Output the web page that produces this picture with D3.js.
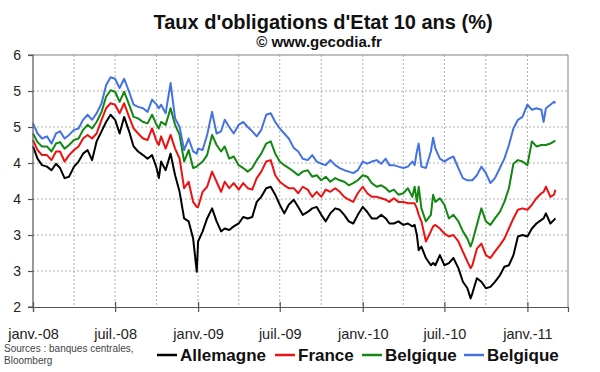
<!DOCTYPE html>
<html>
<head>
<meta charset="utf-8">
<script src="https://cdn.jsdelivr.net/npm/d3@7"></script>
<style>
  body { margin: 0; background: #fff; }
  svg { display: block; font-family: "Liberation Sans", Arial, sans-serif; }
</style>
</head>
<body>
<div id="chart"></div>
<script>
// values (about three per month)
const dates = [
  '2008-01-01','2008-01-11','2008-01-21','2008-02-01','2008-02-11','2008-02-21','2008-03-01','2008-03-11','2008-03-21',
  '2008-04-01','2008-04-11','2008-04-21','2008-05-01','2008-05-11','2008-05-21','2008-06-01','2008-06-11','2008-06-21',
  '2008-07-01','2008-07-11','2008-07-21','2008-08-01','2008-08-11','2008-08-21','2008-09-01','2008-09-11','2008-09-21',
  '2008-10-01','2008-10-06','2008-10-11','2008-10-21','2008-11-01','2008-11-11','2008-11-21','2008-12-01','2008-12-11',
  '2008-12-21','2008-12-29','2009-01-01','2009-01-11','2009-01-21','2009-02-01','2009-02-11','2009-02-21','2009-03-01',
  '2009-03-11','2009-03-21','2009-04-01','2009-04-11','2009-04-21','2009-05-01','2009-05-11','2009-05-21','2009-06-01',
  '2009-06-11','2009-06-21','2009-07-01','2009-07-11','2009-07-21','2009-08-01','2009-08-11','2009-08-21','2009-09-01',
  '2009-09-11','2009-09-21','2009-10-01','2009-10-11','2009-10-21','2009-11-01','2009-11-11','2009-11-21','2009-12-01',
  '2009-12-11','2009-12-21','2010-01-01','2010-01-11','2010-01-21','2010-02-01','2010-02-11','2010-02-21','2010-03-01',
  '2010-03-11','2010-03-21','2010-04-01','2010-04-11','2010-04-21','2010-04-26','2010-05-01','2010-05-05','2010-05-11',
  '2010-05-21','2010-06-01','2010-06-06','2010-06-11','2010-06-21','2010-07-01','2010-07-11','2010-07-21','2010-08-01',
  '2010-08-11','2010-08-21','2010-08-28','2010-09-01','2010-09-11','2010-09-21','2010-10-01','2010-10-11','2010-10-21',
  '2010-11-01','2010-11-11','2010-11-21','2010-12-01','2010-12-11','2010-12-21','2011-01-01','2011-01-11','2011-01-21',
  '2011-02-01','2011-02-06','2011-02-11','2011-02-21','2011-03-01','2011-03-04'
]

const allemagne = [
  4.23,4.06,3.97,3.95,3.90,3.99,3.93,3.79,3.81,
  3.95,4.02,4.13,4.18,4.04,4.30,4.44,4.57,4.67,
  4.60,4.41,4.64,4.44,4.23,4.16,4.11,4.06,4.11,
  3.93,3.79,4.02,3.90,4.13,3.83,3.60,3.23,3.19,
  2.95,2.49,2.91,3.05,3.23,3.37,3.19,3.05,3.09,
  3.07,3.12,3.16,3.25,3.23,3.25,3.46,3.53,3.65,
  3.67,3.56,3.42,3.30,3.42,3.49,3.39,3.28,3.32,
  3.37,3.39,3.28,3.19,3.30,3.37,3.35,3.28,3.19,
  3.16,3.28,3.39,3.32,3.23,3.23,3.28,3.23,3.16,
  3.16,3.19,3.14,3.16,3.12,3.14,3.00,2.79,2.84,
  2.68,2.58,2.61,2.58,2.72,2.58,2.61,2.68,2.54,
  2.35,2.26,2.12,2.19,2.40,2.35,2.26,2.28,2.35,
  2.44,2.56,2.58,2.72,2.98,3.00,2.98,3.09,3.16,
  3.21,3.23,3.30,3.16,3.21,3.23
]

const france = [
  4.32,4.18,4.11,4.11,4.04,4.16,4.16,4.02,4.11,
  4.18,4.23,4.34,4.39,4.34,4.41,4.60,4.76,4.83,
  4.81,4.69,4.83,4.64,4.48,4.41,4.34,4.32,4.48,
  4.30,4.25,4.37,4.20,4.39,4.20,4.06,3.65,3.74,
  3.46,3.39,3.39,3.60,3.67,3.88,3.74,3.60,3.74,
  3.65,3.72,3.63,3.72,3.65,3.63,3.79,3.88,4.02,
  4.04,3.83,3.74,3.69,3.65,3.65,3.58,3.67,3.63,
  3.53,3.60,3.53,3.63,3.60,3.65,3.60,3.53,3.49,
  3.46,3.58,3.67,3.58,3.53,3.53,3.51,3.49,3.46,
  3.51,3.46,3.46,3.44,3.44,3.44,3.37,3.28,3.19,
  2.91,3.05,3.12,3.14,3.09,3.02,2.98,3.00,2.91,
  2.77,2.63,2.54,2.58,2.81,2.88,2.72,2.68,2.77,
  2.86,2.95,3.09,3.23,3.35,3.37,3.35,3.42,3.51,
  3.58,3.60,3.67,3.53,3.56,3.63
]

const belgique = [
  4.41,4.29,4.23,4.23,4.16,4.27,4.29,4.20,4.25,
  4.32,4.34,4.46,4.53,4.48,4.57,4.71,4.92,5.01,
  4.99,4.85,4.99,4.81,4.64,4.62,4.57,4.55,4.67,
  4.53,4.48,4.57,4.53,4.76,4.53,4.39,4.02,4.18,
  3.93,3.95,3.97,4.02,4.11,4.39,4.25,4.16,4.23,
  4.06,4.09,3.97,3.93,3.88,3.93,4.04,4.13,4.27,
  4.30,4.13,4.02,3.97,3.93,3.88,3.83,3.88,3.90,
  3.81,3.83,3.76,3.81,3.74,3.79,3.76,3.74,3.69,
  3.72,3.76,3.83,3.81,3.72,3.67,3.69,3.65,3.60,
  3.63,3.56,3.58,3.65,3.53,3.67,3.46,3.67,3.37,
  3.19,3.28,3.56,3.46,3.51,3.42,3.23,3.28,3.19,
  3.05,2.95,2.84,2.91,3.14,3.37,3.19,3.14,3.23,
  3.32,3.46,3.65,3.99,4.04,4.02,3.97,4.30,4.23,
  4.25,4.25,4.25,4.27,4.30,4.31
]

// the second "Belgique" series (blue) keeps its label from the original
const belgique2 = [
  4.55,4.41,4.34,4.37,4.27,4.41,4.44,4.34,4.39,
  4.46,4.48,4.60,4.67,4.60,4.69,4.83,5.08,5.19,
  5.17,5.04,5.17,4.99,4.81,4.78,4.76,4.71,4.88,
  4.81,4.76,4.81,4.69,5.11,4.62,4.50,4.18,4.34,
  4.16,4.13,4.20,4.18,4.39,4.71,4.41,4.44,4.60,
  4.50,4.41,4.53,4.57,4.50,4.44,4.37,4.46,4.67,
  4.69,4.57,4.48,4.41,4.34,4.21,4.16,4.06,4.04,
  4.11,4.02,3.99,3.97,4.04,3.97,3.93,3.90,3.88,
  3.86,3.90,4.02,3.99,4.02,4.04,3.99,4.06,3.97,
  3.97,3.95,3.93,3.95,4.02,3.97,4.16,4.27,3.95,
  3.93,4.16,4.35,4.20,4.06,4.02,4.06,4.09,3.93,
  3.79,3.76,3.76,3.76,3.83,3.95,3.86,3.72,3.79,
  3.93,4.06,4.25,4.48,4.60,4.64,4.81,4.74,4.76,
  4.74,4.57,4.76,4.81,4.85,4.83
]

const seriesNames = ['Allemagne', 'France', 'Belgique', 'Belgique']
const seriesColors = ['#000000', '#ee1111', '#118811', '#4472e4']

const yTicks = [2, 2.5, 3, 3.5, 4, 4.5, 5, 5.5]
const yTickLabels = ['2', '3', '3', '4', '4', '5', '5', '6']
const xTickDates = ['2008-01-01','2008-07-01','2009-01-01','2009-07-01','2010-01-01','2010-07-01','2011-01-01']
const xTickLabels = ['janv.-08','juil.-08','janv.-09','juil.-09','janv.-10','juil.-10','janv.-11']

const width = 600
const height = 372
const plot = { left: 33, right: 568, top: 55, bottom: 307 }

const parse = d3.timeParse('%Y-%m-%d')
const parsedDates = dates.map(parse)
const series = [allemagne, france, belgique, belgique2].map((vals, i) => ({
  name: seriesNames[i],
  color: seriesColors[i],
  points: vals.map((v, j) => ({ date: parsedDates[j], value: v }))
}))

const x = d3.scaleTime()
  .domain([parse('2008-01-01'), parse('2011-04-01')])
  .range([plot.left, plot.right])

const y = d3.scaleLinear()
  .domain([2, 5.5])
  .range([plot.bottom, plot.top])

const svg = d3.select('#chart')
  .append('svg')
  .attr('width', width)
  .attr('height', height)

// titles
svg.append('text')
  .attr('x', 323).attr('y', 29)
  .attr('text-anchor', 'middle')
  .attr('font-size', 20).attr('font-weight', 'bold')
  .attr('fill', '#111')
  .text("Taux d'obligations d'Etat 10 ans (%)")

svg.append('text')
  .attr('x', 319).attr('y', 47)
  .attr('text-anchor', 'middle')
  .attr('font-size', 15).attr('font-weight', 'bold')
  .attr('fill', '#111')
  .text('© www.gecodia.fr')

// dotted grid
const grid = svg.append('g').attr('class', 'grid')
grid.selectAll('line.h')
  .data(yTicks.filter(v => v > 2 && v < 5.5))
  .enter().append('line')
  .attr('x1', plot.left).attr('x2', plot.right)
  .attr('y1', d => y(d)).attr('y2', d => y(d))
  .attr('stroke', '#b0b0b0').attr('stroke-dasharray', '2,2')

const quarters = d3.timeMonth.every(3).range(parse('2008-04-01'), parse('2011-04-01'))
grid.selectAll('line.v')
  .data(quarters)
  .enter().append('line')
  .attr('x1', d => x(d)).attr('x2', d => x(d))
  .attr('y1', plot.top).attr('y2', plot.bottom)
  .attr('stroke', '#b0b0b0').attr('stroke-dasharray', '2,2')

// frame top / right
svg.append('path')
  .attr('d', `M${plot.left},${plot.top}H${plot.right}V${plot.bottom}`)
  .attr('fill', 'none')
  .attr('stroke', '#808080')

// series
const line = d3.line()
  .x(d => x(d.date))
  .y(d => y(d.value))

svg.append('g').selectAll('path')
  .data(series)
  .enter().append('path')
  .attr('fill', 'none')
  .attr('stroke', d => d.color)
  .attr('stroke-width', 2)
  .attr('stroke-linejoin', 'round')
  .attr('d', d => line(d.points))

// axes
const yAxis = svg.append('g')
  .attr('transform', `translate(${plot.left},0)`)
  .call(d3.axisLeft(y)
    .tickValues(yTicks)
    .tickFormat((d, i) => yTickLabels[i])
    .tickSize(5).tickPadding(7))

const xAxis = svg.append('g')
  .attr('transform', `translate(0,${plot.bottom})`)
  .call(d3.axisBottom(x)
    .tickValues(xTickDates.map(parse))
    .tickFormat((d, i) => xTickLabels[i])
    .tickSize(5).tickPadding(17))

xAxis.selectAll('.tick line').attr('y1', -5)

;[yAxis, xAxis].forEach(ax => {
  ax.select('.domain').attr('stroke', '#555').attr('stroke-width', 1.2)
  ax.selectAll('.tick line').attr('stroke', '#555').attr('stroke-width', 1.2)
  ax.selectAll('.tick text')
    .attr('fill', '#222')
    .attr('font-family', '"Liberation Sans", Arial, sans-serif')
})
yAxis.selectAll('.tick text').attr('font-size', 14)
xAxis.selectAll('.tick text').attr('font-size', 14.5)
yAxis.select('.domain').attr('d', `M-5,${plot.top}H0V${plot.bottom}H-5`)

// sources
const src = svg.append('text')
  .attr('x', 4).attr('y', 352)
  .attr('font-size', 10).attr('fill', '#444')
src.append('tspan').text('Sources : banques centrales,')
src.append('tspan').attr('x', 4).attr('dy', 12).text('Bloomberg')

// legend
const legendX = [157, 275, 362, 464]
const legend = svg.append('g')
  .selectAll('g')
  .data(series)
  .enter().append('g')
  .attr('transform', (d, i) => `translate(${legendX[i]},355)`)

legend.append('line')
  .attr('x1', 0).attr('x2', 20)
  .attr('stroke', d => d.color)
  .attr('stroke-width', 2.5)

legend.append('text')
  .attr('x', 23).attr('y', 6)
  .attr('font-size', 17).attr('font-weight', 'bold')
  .attr('fill', '#111')
  .text(d => d.name)
</script>
</body>
</html>
